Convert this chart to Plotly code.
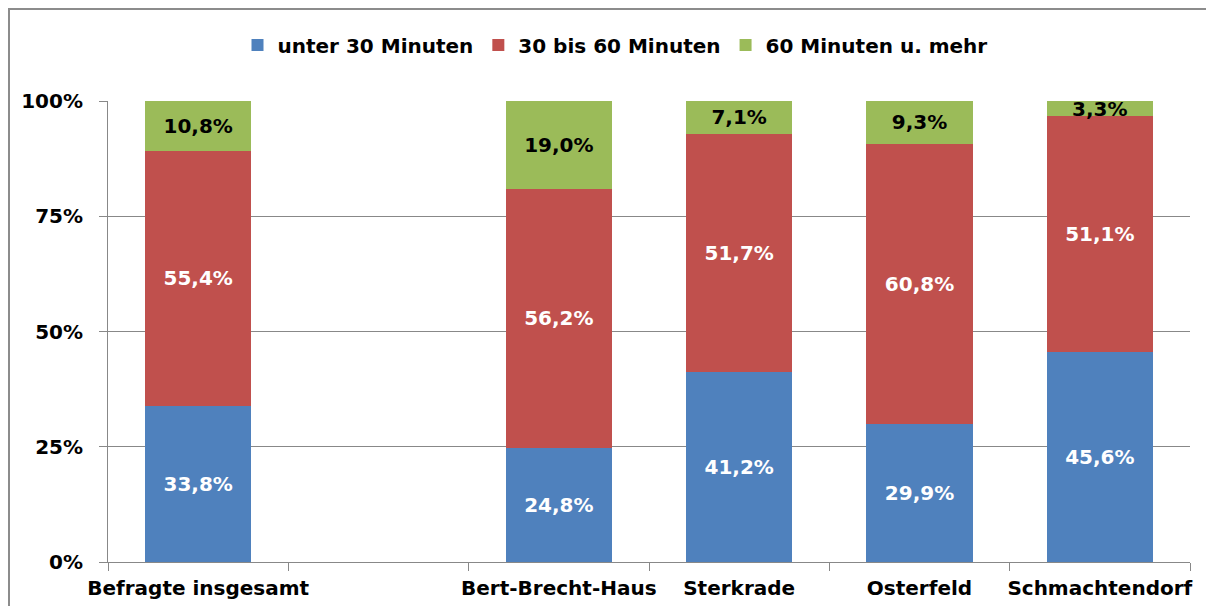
import plotly.graph_objects as go

categories = ["Befragte insgesamt", " ", "Bert-Brecht-Haus", "Sterkrade", "Osterfeld", "Schmachtendorf"]
unter_30 = [33.8, None, 24.8, 41.2, 29.9, 45.6]
bis_60 = [55.4, None, 56.2, 51.7, 60.8, 51.1]
ueber_60 = [10.8, None, 19.0, 7.1, 9.3, 3.3]
y_ticks = [0, 25, 50, 75, 100]
y_tick_labels = ["0%", "25%", "50%", "75%", "100%"]

series = [
    ("unter 30 Minuten", unter_30, "#4F81BD", "white"),
    ("30 bis 60 Minuten", bis_60, "#C0504D", "white"),
    ("60 Minuten u. mehr", ueber_60, "#9BBB59", "black"),
]

fnt = dict(family="DejaVu Sans, Arial, sans-serif", size=20, color="black", weight="bold")

fig = go.Figure()
for name, vals, col, tcol in series:
    fig.add_trace(go.Bar(
        x=categories, y=vals, name=name,
        marker=dict(color=col, line=dict(width=0)),
        texttemplate="%{y:.1f}%",
        textposition="inside",
        insidetextanchor="middle",
        constraintext="none",
        textangle=0,
        textfont=dict(family=fnt["family"], size=20, color=tcol, weight="bold"),
    ))

# page body has an 8px margin, so the figure sits at (8, 8)
fig.update_layout(
    barmode="stack",
    bargap=0.41,
    separators=",.",
    width=1214, height=606,
    margin=dict(l=100, r=32, t=93, b=52, autoexpand=False),
    paper_bgcolor="white", plot_bgcolor="white",
    font=fnt,
    showlegend=True,
    legend=dict(orientation="h", xref="container", x=0.5, xanchor="center",
                yref="container", y=0.939, yanchor="middle",
                bgcolor="rgba(0,0,0,0)",
                font=fnt, itemwidth=30, traceorder="normal"),
)
fig.update_yaxes(
    range=[0, 100], tickvals=y_ticks, ticktext=y_tick_labels,
    showgrid=True, gridcolor="#888888", gridwidth=1,
    showline=True, linecolor="#888888", linewidth=1,
    ticks="outside", ticklen=8, tickcolor="#888888",
    ticklabelstandoff=12, zeroline=False, automargin=False,
)
fig.update_xaxes(
    showline=True, linecolor="#888888", linewidth=1,
    ticks="outside", ticklen=8, tickcolor="#888888", tickson="boundaries",
    tickangle=0, ticklabelstandoff=8, automargin=False,
)
# outer frame of the chart
fig.add_shape(type="rect", xref="paper", yref="paper",
              x0=-0.0915, x1=1.1, y0=-0.2, y1=1.1996,
              line=dict(color="#8c8c8c", width=2), layer="below")

fig.write_html("out.html")
